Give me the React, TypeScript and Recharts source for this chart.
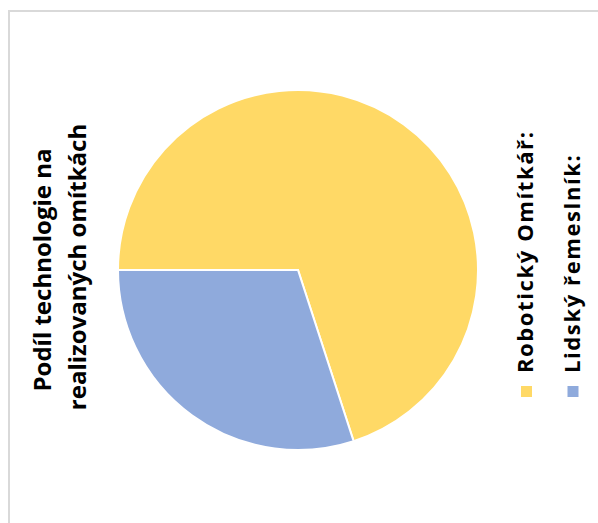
import React from "react";
import { PieChart, Pie, Cell, Customized } from "recharts";

const categories = ["Robotický Omítkář:", "Lidský řemeslník:"];
const values = [70, 30];
const colors = ["#FFD966", "#8FAADC"];
const titleLines = ["Podíl technologie na", "realizovaných omítkách"];

const data = categories.map((name, i) => ({ name, value: values[i] }));

const Overlay = () => (
  <g>
    <text
      transform="translate(51,270) rotate(-90)"
      textAnchor="middle"
      fontFamily="Open Sans"
      fontWeight="bold"
      fontSize={24}
      fill="#000"
    >
      {titleLines[0]}
    </text>
    <text
      transform="translate(86,267) rotate(-90)"
      textAnchor="middle"
      fontFamily="Open Sans"
      fontWeight="bold"
      fontSize={24}
      fill="#000"
    >
      {titleLines[1]}
    </text>
    {categories.map((c, i) => {
      const x = 526.5 + i * 46.5;
      return (
        <g key={c}>
          <rect x={x - 5.5} y={386} width={11} height={11} fill={colors[i]} />
          <text
            transform={`translate(${x + 6.5},373) rotate(-90)`}
            textAnchor="start"
            fontFamily="Open Sans"
            fontWeight="bold"
            fontSize={22}
            letterSpacing={1.6}
            fill="#000"
          >
            {c}
          </text>
        </g>
      );
    })}
  </g>
);

export default function App() {
  return (
    <div style={{ position: "absolute", left: 0, top: 0, width: 598, height: 523, background: "#fff" }}>
      <div
        style={{
          position: "absolute",
          left: 8,
          top: 10,
          width: 590,
          height: 513,
          borderTop: "2px solid #d9d9d9",
          borderLeft: "2px solid #d9d9d9",
        }}
      />
      <div style={{ position: "absolute", left: 0, top: 0 }}>
        <PieChart width={598} height={523} margin={{ top: 0, right: 0, bottom: 0, left: 0 }}>
          <Pie
            data={data}
            dataKey="value"
            cx={298}
            cy={270}
            outerRadius={180}
            startAngle={180}
            endAngle={-180}
            stroke="#fff"
            strokeWidth={2}
            isAnimationActive={false}
          >
            {data.map((d, i) => (
              <Cell key={d.name} fill={colors[i]} />
            ))}
          </Pie>
          <Customized component={Overlay} />
        </PieChart>
      </div>
    </div>
  );
}
